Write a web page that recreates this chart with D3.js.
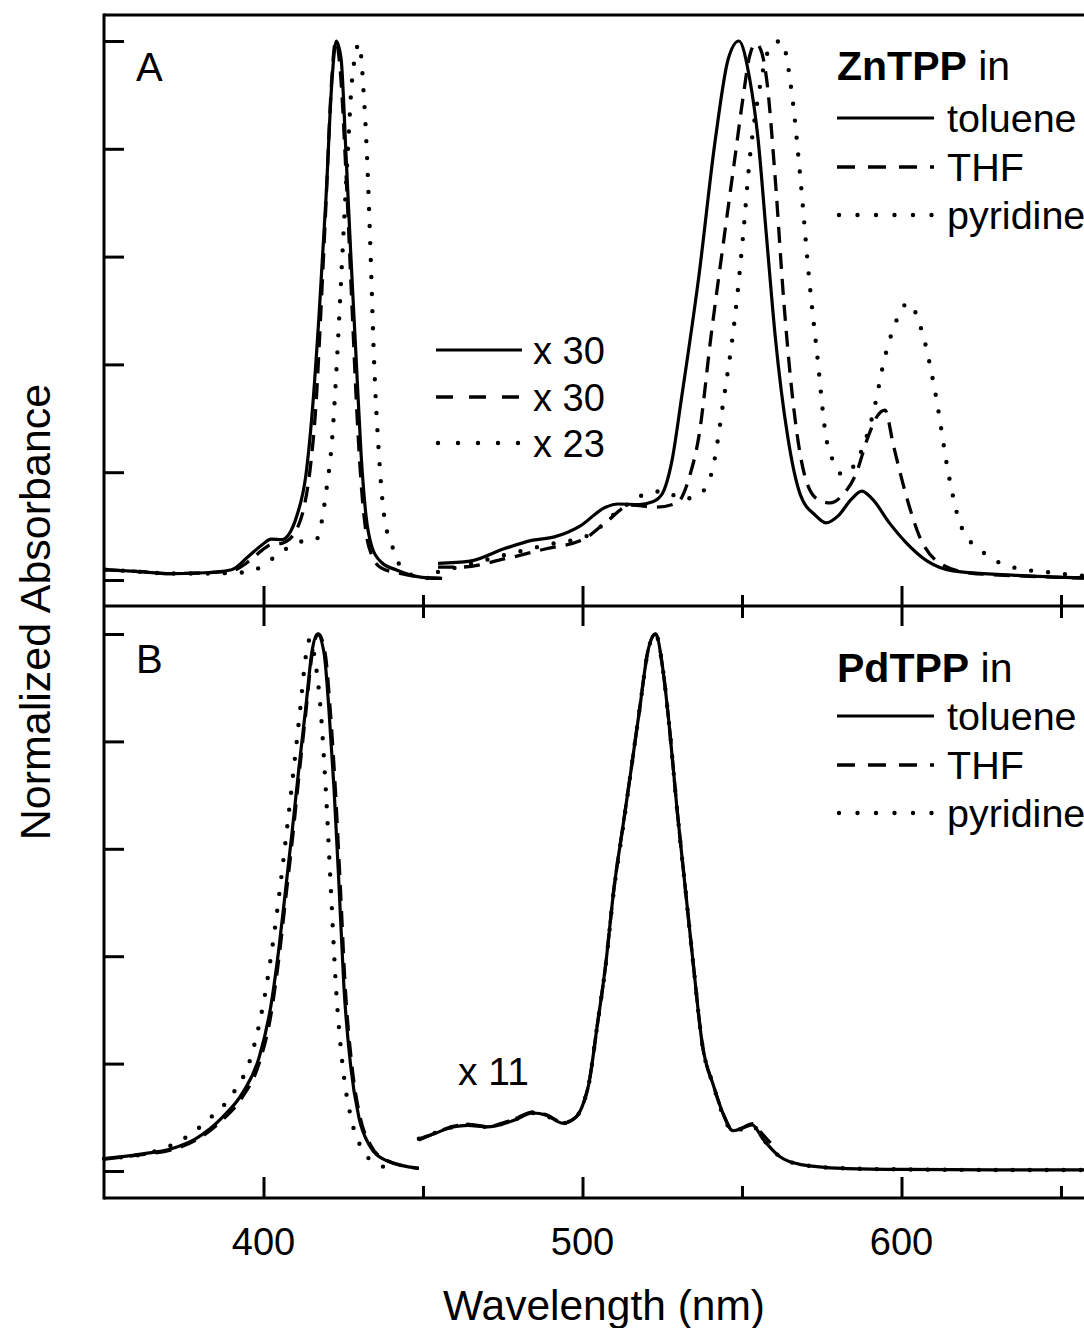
<!DOCTYPE html>
<html><head><meta charset="utf-8">
<script src="https://cdn.jsdelivr.net/npm/d3@7/dist/d3.min.js"></script>
<style>body{margin:0;background:#fff}text{font-family:"Liberation Sans",Arial,sans-serif;fill:#000}</style>
</head><body><svg id="c" width="1084" height="1328"></svg>
<script>
// ---------- DATA (wavelength nm, normalized absorbance) ----------
// Panel A: ZnTPP, Soret region
const znSoretToluene = [[350.6,0.019],[360,0.016],[371,0.012],[380,0.013],[390,0.019],[395.5,0.045],[399.5,0.065],[402.4,0.076],[405.8,0.075],[408,0.085],[410.5,0.12],[413.3,0.195],[415.2,0.306],[417.4,0.49],[419.6,0.71],[421.5,0.93],[422.8,1.0],[424.3,0.968],[425.9,0.785],[427.4,0.60],[429,0.416],[430.6,0.232],[432.1,0.121],[434,0.061],[437.1,0.032],[441.5,0.019],[449.7,0.005],[456,0.003]];
const znSoretTHF = [[350.6,0.019],[360,0.016],[371,0.012],[380,0.013],[390,0.017],[395.5,0.035],[399.5,0.055],[402.4,0.066],[405.8,0.068],[408,0.075],[410.5,0.095],[412.5,0.13],[414.5,0.2],[416.5,0.33],[418,0.5],[419.6,0.70],[421.3,0.92],[422.6,1.0],[424,0.95],[425.9,0.75],[427.8,0.5],[429.2,0.32],[430.6,0.18],[432.1,0.09],[434,0.045],[437,0.022],[441.5,0.014],[449.7,0.005],[456,0.003]];
const znSoretPyridine = [[350.6,0.019],[360,0.016],[371,0.012],[380,0.012],[393.3,0.014],[399.5,0.025],[405,0.05],[411.1,0.07],[416.8,0.077],[418.3,0.11],[419.5,0.158],[421.6,0.268],[423.1,0.415],[424.7,0.6],[426.3,0.78],[427.8,0.93],[430,0.995],[431.5,0.894],[432.5,0.78],[433.6,0.6],[434.6,0.416],[436.2,0.232],[437.8,0.12],[440.4,0.062],[443.5,0.021],[449.8,0.004],[456,0.003]];
// Panel A: ZnTPP, Q-band region (magnified)
const znQToluene = [[454.7,0.031],[464.7,0.035],[475.4,0.058],[484.5,0.074],[491.2,0.08],[499.2,0.10],[507.2,0.135],[511.2,0.141],[517.7,0.140],[522,0.145],[525,0.16],[528,0.22],[531.1,0.34],[536.4,0.56],[541.7,0.82],[545.7,0.967],[549.0,1.0],[552.4,0.93],[555.0,0.82],[557.7,0.636],[560.4,0.453],[564.3,0.267],[568.3,0.158],[573.0,0.12],[576.3,0.106],[580.3,0.12],[584.3,0.15],[587.6,0.165],[590.9,0.15],[596.2,0.106],[601.5,0.069],[608.1,0.035],[616.1,0.017],[634.7,0.009],[670,0.002]];
const znQTHF = [[454.7,0.024],[461.9,0.024],[475.4,0.039],[488.6,0.058],[500.5,0.076],[507.1,0.106],[515.2,0.139],[523,0.135],[529.6,0.143],[533.7,0.195],[536.5,0.267],[540.3,0.453],[544.4,0.636],[547.7,0.78],[550.3,0.894],[552.3,0.97],[554.3,0.995],[555.8,0.985],[557.7,0.93],[560.4,0.746],[563,0.525],[565.8,0.341],[569.6,0.195],[573.6,0.15],[577.6,0.143],[581.6,0.158],[585.6,0.195],[589.6,0.267],[592.5,0.305],[594.8,0.315],[597.5,0.249],[601.4,0.158],[605.5,0.083],[612.1,0.031],[621.5,0.013],[640,0.007],[670,0.002]];
const znQPyridine = [[454.7,0.015],[465,0.03],[475.4,0.046],[488.6,0.065],[501.9,0.083],[511.2,0.128],[519.1,0.158],[525.9,0.165],[531.1,0.15],[536.4,0.158],[540.3,0.195],[544.4,0.341],[547.8,0.488],[550.3,0.636],[552.4,0.78],[555,0.894],[559,0.99],[562.3,1.0],[565.8,0.894],[568.3,0.746],[571,0.562],[573.6,0.416],[576.3,0.267],[578.9,0.217],[581.6,0.195],[585.6,0.217],[590.9,0.304],[594.9,0.416],[598.9,0.488],[602,0.514],[606.8,0.453],[610.8,0.341],[614.8,0.195],[618.8,0.098],[626.8,0.046],[634.7,0.024],[648,0.013],[670,0.002]];
// Panel B: PdTPP, Soret region
const pdSoretToluene = [[350,0.023],[361,0.031],[371.4,0.042],[378.7,0.06],[387.1,0.10],[393.4,0.145],[398.6,0.211],[402.3,0.307],[404.9,0.418],[407,0.528],[409.1,0.639],[411.1,0.75],[413.2,0.86],[415.3,0.971],[416.9,1.0],[419,0.964],[420.5,0.86],[422.1,0.713],[423.7,0.528],[425.2,0.344],[427.3,0.197],[429.9,0.10],[433.1,0.049],[438.3,0.02],[448.7,0.005]];
const pdSoretTHF = [[350,0.022],[361,0.030],[371.4,0.040],[378.7,0.057],[387.1,0.095],[393.4,0.138],[398.6,0.2],[402.3,0.29],[404.9,0.40],[407,0.51],[409.1,0.62],[411.1,0.735],[413.2,0.85],[415.3,0.965],[417.2,1.0],[419.3,0.965],[420.9,0.86],[422.5,0.713],[424.1,0.528],[425.6,0.344],[427.7,0.197],[430.3,0.10],[433.5,0.049],[438.5,0.02],[448.7,0.005]];
const pdSoretPyridine = [[350,0.023],[365,0.035],[375,0.06],[383.5,0.10],[390.5,0.145],[396,0.211],[399.8,0.307],[402.8,0.418],[405.2,0.528],[407.4,0.639],[409.5,0.75],[411.5,0.86],[413.3,0.96],[414.5,0.99],[416.2,0.95],[417.9,0.86],[419.5,0.713],[421.1,0.528],[422.7,0.344],[424.8,0.197],[427.4,0.10],[430.5,0.045],[435,0.015],[440,0.005]];
// Panel B: PdTPP, Q-band region (magnified)
const pdQToluene = [[448.7,0.060],[452,0.066],[459.4,0.082],[464,0.085],[470.1,0.082],[477.9,0.093],[484.6,0.108],[488.6,0.104],[493.9,0.089],[497.9,0.10],[500.5,0.13],[501.9,0.16],[504.6,0.27],[507.2,0.381],[509.9,0.528],[512.6,0.639],[515.3,0.75],[517.9,0.86],[520.6,0.971],[522.9,1.0],[525.2,0.934],[527.3,0.823],[529.6,0.676],[532.2,0.528],[534.8,0.381],[537.6,0.234],[541,0.16],[544,0.108],[547.2,0.075],[549.9,0.079],[553.2,0.086],[556.5,0.06],[561.8,0.027],[568.5,0.012],[581.6,0.005],[600,0.003],[630,0.002],[670,0.002]];
const pdQTHF = [[448.7,0.058],[452,0.066],[459.4,0.083],[464,0.087],[470.1,0.083],[477.9,0.095],[484.6,0.11],[488.6,0.105],[493.9,0.09],[497.9,0.10],[500.5,0.13],[501.9,0.16],[504.6,0.27],[507.2,0.381],[509.9,0.528],[512.6,0.639],[515.3,0.75],[517.9,0.86],[520.6,0.971],[522.9,1.0],[525.2,0.934],[527.3,0.823],[529.6,0.676],[532.2,0.528],[534.8,0.381],[537.6,0.234],[541,0.16],[544,0.108],[547.2,0.075],[549.9,0.08],[553.2,0.088],[556.5,0.068],[559,0.052],[561,0.04]];
const pdQPyridine = [[448.7,0.060],[452,0.067],[459.4,0.082],[464,0.086],[470.1,0.082],[477.9,0.094],[484.6,0.108],[488.6,0.103],[493.9,0.089],[497.9,0.10],[500.5,0.13],[501.9,0.16],[504.6,0.27],[507.2,0.38],[509.9,0.525],[512.6,0.635],[515.3,0.75],[517.9,0.86],[520.6,0.97],[522.9,1.0],[525.2,0.934],[527.3,0.823],[529.6,0.676],[532.2,0.528],[534.8,0.381],[537.6,0.234],[541,0.16],[544,0.105],[547.2,0.073],[549.9,0.078],[553.2,0.085],[556.5,0.06],[561.8,0.027],[568.5,0.012],[581.6,0.005],[600,0.003],[630,0.002],[670,0.002]];

const xMajorTicks = [400, 500, 600];
const xMinorTicks = [450, 550, 650];
const yTickValues = [0, 0.2, 0.4, 0.6, 0.8, 1.0];
const solvents = ["toluene", "THF", "pyridine"];
const factorsA = ["x 30", "x 30", "x 23"];
const factorB = "x 11";
const panelTitles = ["ZnTPP", "PdTPP"];

// ---------- LAYOUT ----------
const svg = d3.select("#c");
const L = 104, TOP = 15, MID = 606, BOT = 1198;
const x = d3.scaleLinear().domain([350, 670]).range([L, L + 320 * 3.19]);
const yA = d3.scaleLinear().domain([0, 1]).range([580, 41]);
const yB = d3.scaleLinear().domain([0, 1]).range([1171, 634]);
const styles = {
  toluene: {dash: null, cap: "butt", w: 3.2},
  THF: {dash: "16 10", cap: "butt", w: 3.3},
  pyridine: {dash: "0 17", cap: "round", w: 4.4}
};

svg.append("rect").attr("width", 1084).attr("height", 1328).attr("fill", "#fff");

function drawSeries(data, y, solvent) {
  const s = styles[solvent];
  const line = d3.line().x(d => x(d[0])).y(d => y(d[1])).curve(d3.curveMonotoneX);
  svg.append("path").datum(data).attr("d", line)
    .attr("fill", "none").attr("stroke", "#000").attr("stroke-width", s.w)
    .attr("stroke-linecap", s.cap).attr("stroke-linejoin", "round")
    .attr("stroke-dasharray", s.dash);
}
drawSeries(znSoretToluene, yA, "toluene");
drawSeries(znSoretTHF, yA, "THF");
drawSeries(znSoretPyridine, yA, "pyridine");
drawSeries(znQToluene, yA, "toluene");
drawSeries(znQTHF, yA, "THF");
drawSeries(znQPyridine, yA, "pyridine");
drawSeries(pdSoretToluene, yB, "toluene");
drawSeries(pdSoretTHF, yB, "THF");
drawSeries(pdSoretPyridine, yB, "pyridine");
drawSeries(pdQToluene, yB, "toluene");
drawSeries(pdQTHF, yB, "THF");
drawSeries(pdQPyridine, yB, "pyridine");

// ---------- AXES ----------
function styleAxis(g) {
  g.select(".domain").remove();
  g.selectAll(".tick line").attr("stroke", "#000").attr("stroke-width", 3);
  g.selectAll(".tick text").remove();
}
svg.append("g").attr("transform", `translate(${L},0)`).call(d3.axisLeft(yA).tickValues(yTickValues).tickSize(-20)).call(styleAxis);
svg.append("g").attr("transform", `translate(${L},0)`).call(d3.axisLeft(yB).tickValues(yTickValues).tickSize(-20)).call(styleAxis);
// divider: panel A bottom (ticks up) & panel B top (ticks down)
svg.append("g").attr("transform", `translate(0,${MID})`).call(d3.axisBottom(x).tickValues(xMajorTicks).tickSize(-20)).call(styleAxis);
svg.append("g").attr("transform", `translate(0,${MID})`).call(d3.axisBottom(x).tickValues(xMinorTicks).tickSize(-11)).call(styleAxis);
svg.append("g").attr("transform", `translate(0,${MID})`).call(d3.axisTop(x).tickValues(xMajorTicks).tickSize(-20)).call(styleAxis);
svg.append("g").attr("transform", `translate(0,${MID})`).call(d3.axisTop(x).tickValues(xMinorTicks).tickSize(-12)).call(styleAxis);
// bottom
svg.append("g").attr("transform", `translate(0,${BOT})`).call(d3.axisBottom(x).tickValues(xMajorTicks).tickSize(-21)).call(styleAxis);
svg.append("g").attr("transform", `translate(0,${BOT})`).call(d3.axisBottom(x).tickValues(xMinorTicks).tickSize(-12)).call(styleAxis);
// frame lines
const frame = [[L, TOP, 1100, TOP], [L, MID, 1100, MID], [L, BOT, 1100, BOT], [L, TOP - 1.5, L, BOT + 1.5]];
svg.selectAll("line.frame").data(frame).enter().append("line").attr("class", "frame")
  .attr("x1", d => d[0]).attr("y1", d => d[1]).attr("x2", d => d[2]).attr("y2", d => d[3])
  .attr("stroke", "#000").attr("stroke-width", 3);

// tick labels
svg.selectAll("text.xt").data(xMajorTicks).enter().append("text").attr("class", "xt")
  .attr("x", d => x(d)).attr("y", 1255).attr("text-anchor", "middle").attr("font-size", 38).text(d => d);
svg.append("text").attr("x", 604).attr("y", 1320).attr("text-anchor", "middle").attr("font-size", 42.5).text("Wavelength (nm)");
svg.append("text").attr("transform", "translate(50,612) rotate(-90)").attr("text-anchor", "middle").attr("font-size", 43).text("Normalized Absorbance");

// panel letters
svg.append("text").attr("x", 136).attr("y", 81).attr("font-size", 40).text("A");
svg.append("text").attr("x", 136).attr("y", 673).attr("font-size", 40).text("B");

// legends
function legend(title, x0, titleY, lineYs) {
  const t = svg.append("text").attr("x", x0).attr("y", titleY).attr("font-size", 41);
  t.append("tspan").attr("font-weight", "bold").text(title);
  t.append("tspan").text(" in");
  solvents.forEach((s, i) => {
    const st = styles[s];
    svg.append("line").attr("x1", x0 + (s === "pyridine" ? 2 : 0)).attr("x2", x0 + 97).attr("y1", lineYs[i]).attr("y2", lineYs[i])
      .attr("stroke", "#000").attr("stroke-width", st.w).attr("stroke-linecap", st.cap)
      .attr("stroke-dasharray", s === "THF" ? "18 13" : (s === "pyridine" ? "0 18.5" : null));
    svg.append("text").attr("x", x0 + 110).attr("y", lineYs[i] + 14).attr("font-size", 39.5).text(s);
  });
}
legend(panelTitles[0], 837, 80, [118, 167, 215]);
legend(panelTitles[1], 837, 682, [716, 765, 813]);

// magnification legend in panel A
factorsA.forEach((f, i) => {
  const yy = [350, 397, 443][i];
  const s = solvents[i];
  svg.append("line").attr("x1", 436 + (s === "pyridine" ? 2 : 0)).attr("x2", 522).attr("y1", yy).attr("y2", yy)
    .attr("stroke", "#000").attr("stroke-width", styles[s].w).attr("stroke-linecap", styles[s].cap)
    .attr("stroke-dasharray", s === "THF" ? "17 16" : (s === "pyridine" ? "0 20" : null));
  svg.append("text").attr("x", 533).attr("y", yy + 14).attr("font-size", 38).text(f);
});
svg.append("text").attr("x", 458).attr("y", 1085).attr("font-size", 39).text(factorB);
</script></body></html>
